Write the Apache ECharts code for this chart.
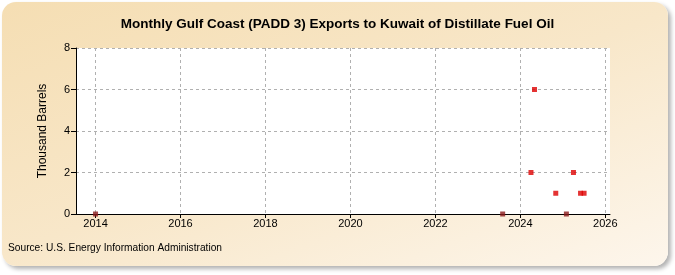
<!DOCTYPE html>
<html><head><meta charset="utf-8">
<script src="https://cdn.jsdelivr.net/npm/echarts@6/dist/echarts.min.js"></script>
<style>
html,body{margin:0;padding:0;background:#fff;}
#bg{position:absolute;left:2px;top:2px;width:666px;height:264px;border-radius:14px;background:linear-gradient(160deg,#f5deb3 0%,#f8e7c9 50%,#fdf6ec 100%);box-shadow:3px 3px 4px rgba(0,0,0,0.3);}
#chart{position:absolute;left:0;top:0;width:675px;height:275px;}
</style></head>
<body><div id="bg"></div><div id="chart"></div>
<script>
// Plotted month (first day of month) and value in thousand barrels
const months = ['2014-01','2023-08','2024-04','2024-05','2024-11','2025-02','2025-04','2025-06','2025-07'];
const values = [0, 0, 2, 6, 1, 0, 2, 1, 1];
const xTickYears = [2014, 2016, 2018, 2020, 2022, 2024, 2026];
const yTicks = [0, 2, 4, 6, 8];

function toYear(m) {
  const [y, mo] = m.split('-').map(Number);
  return y + (mo - 1) / 12;
}
const data = months.map((m, i) => [toYear(m), values[i]]);

const chart = echarts.init(document.getElementById('chart'), null, {renderer: 'canvas'});
chart.setOption({
  animation: false,
  backgroundColor: 'transparent',
  title: {
    text: 'Monthly Gulf Coast (PADD 3) Exports to Kuwait of Distillate Fuel Oil',
    left: 'center', top: 12,
    textStyle: {fontFamily: 'Liberation Sans, Arial, sans-serif', fontSize: 13.5, fontWeight: 'bold', color: '#000'}
  },
  graphic: [{
    type: 'text', left: 8, top: 243,
    style: {text: 'Source: U.S. Energy Information Administration', font: '10.2px "Liberation Sans", Arial, sans-serif', fill: '#000'}
  }],
  grid: {left: 76, right: 65, top: 48, bottom: 61, show: true, backgroundColor: '#fff', borderWidth: 0, containLabel: false},
  xAxis: {
    type: 'value', min: 2013.54, max: 2026.11,
    axisLine: {show: true, onZero: false, lineStyle: {color: '#000', width: 1}},
    axisTick: {show: true, length: 4, customValues: xTickYears, lineStyle: {color: '#000'}},
    axisLabel: {customValues: xTickYears, formatter: v => String(v), color: '#000', fontSize: 11, fontFamily: 'Liberation Sans, Arial, sans-serif', margin: 4},
    splitLine: {show: true, lineStyle: {type: [3, 3], color: '#b0b0b0'}}
  },
  yAxis: {
    type: 'value', min: 0, max: 8, interval: 2,
    name: 'Thousand Barrels', nameLocation: 'middle', nameGap: 27, nameRotate: 90,
    nameTextStyle: {fontSize: 12, fontFamily: 'Liberation Sans, Arial, sans-serif', color: '#000'},
    axisLine: {show: true, lineStyle: {color: '#000', width: 1}},
    axisTick: {show: true, length: 5, lineStyle: {color: '#000'}},
    axisLabel: {customValues: yTicks, color: '#000', fontSize: 11, fontFamily: 'Liberation Sans, Arial, sans-serif', margin: 6},
    splitLine: {show: true, lineStyle: {type: [3, 3], color: '#b0b0b0'}}
  },
  series: [{
    type: 'scatter', symbol: 'rect', symbolSize: 5,
    data: data,
    itemStyle: {color: p => p.value[1] === 0 ? '#8b1a1a' : '#dd0000'},
    z: 5
  }]
});
</script>
</body></html>
